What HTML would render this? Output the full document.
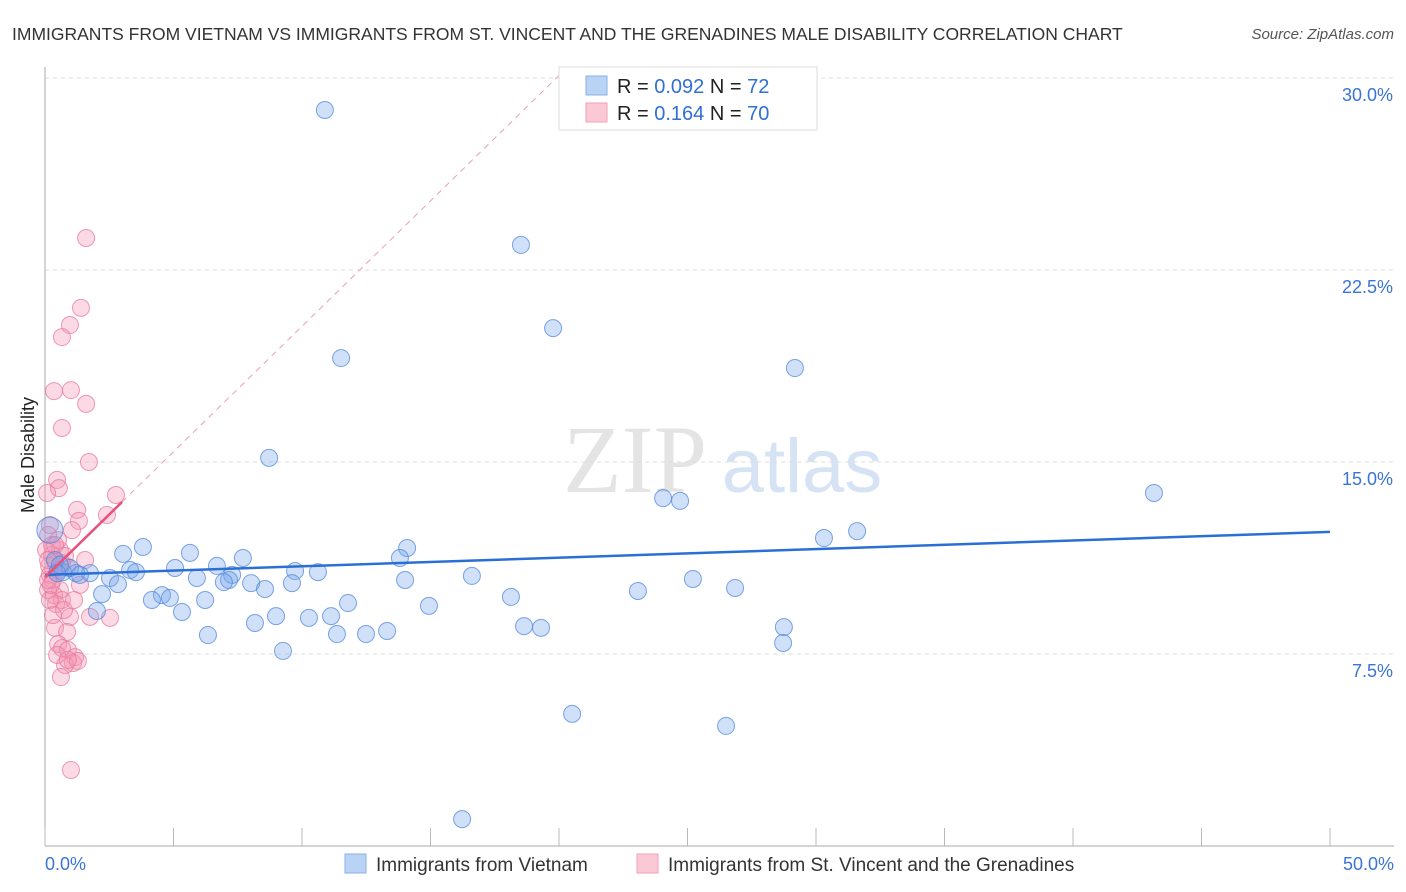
<!DOCTYPE html>
<html><head><meta charset="utf-8"><style>
body{margin:0;background:#fff;font-family:"Liberation Sans",sans-serif;}
#c{position:relative;width:1406px;height:892px;overflow:hidden}
</style></head><body>
<div id="c">
<svg id="s" width="1406" height="892" xmlns="http://www.w3.org/2000/svg">
<text x="12" y="40" font-size="17.5" fill="#333">IMMIGRANTS FROM VIETNAM VS IMMIGRANTS FROM ST. VINCENT AND THE GRENADINES MALE DISABILITY CORRELATION CHART</text>
<text x="1394" y="39" font-size="15" fill="#555" font-style="italic" text-anchor="end">Source: ZipAtlas.com</text>
<g><text x="635" y="492" font-size="96" font-family="Liberation Serif,serif" fill="#e4e4e4" text-anchor="middle">ZIP</text><text x="802" y="492" font-size="76" fill="#d6e3f4" text-anchor="middle">atlas</text></g>
<g id="grid"></g><g id="axes"></g><g id="marks"></g>
<text transform="translate(34,455) rotate(-90)" font-size="18" fill="#222" text-anchor="middle">Male Disability</text>
<g>
<rect x="559" y="67" width="258" height="63" fill="#fff" stroke="#ddd"/>
<rect x="586" y="76" width="21" height="19" fill="#b9d3f5" stroke="#8ab0e8"/>
<rect x="586" y="103" width="21" height="19" fill="#fbc8d6" stroke="#f0a0b8"/>
<text x="617" y="93" font-size="20" fill="#222">R = <tspan fill="#2f6fd6">0.092</tspan>   N = <tspan fill="#2f6fd6">72</tspan></text>
<text x="617" y="120" font-size="20" fill="#222">R =  <tspan fill="#2f6fd6">0.164</tspan>   N = <tspan fill="#2f6fd6">70</tspan></text>
</g>
<g>
<rect x="345" y="854" width="21" height="19" fill="#b9d3f5" stroke="#8ab0e8"/>
<text x="376" y="871" font-size="19" fill="#333">Immigrants from Vietnam</text>
<rect x="637" y="854" width="21" height="19" fill="#fbc8d6" stroke="#f0a0b8"/>
<text x="668" y="871" font-size="19" fill="#333">Immigrants from St. Vincent and the Grenadines</text>
</g>
</svg></div>
<script>
const yTicks=[7.5,15,22.5,30];
const yTickLabels=["7.5%","15.0%","22.5%","30.0%"];
const xTicks=[0,5,10,15,20,25,30,35,40,45,50];
const blueX=[10.89,18.52,19.77,11.52,29.18,8.72,24.05,24.71,43.15,31.60,30.31,14.09,13.81,3.81,3.04,5.64,7.70,6.69,5.06,3.31,3.54,1.75,1.21,2.53,7.28,7.16,5.91,6.96,8.02,8.56,9.73,9.61,10.62,14.01,16.61,25.21,26.85,23.07,2.22,2.84,4.55,4.16,4.86,6.23,11.79,14.94,18.13,2.02,5.33,8.99,10.27,11.13,8.17,18.64,19.30,28.75,6.34,11.36,12.49,13.31,28.72,9.26,20.51,26.50,16.23,0.19,0.70,0.97,1.36,0.39,0.58,0.47];
const blueY=[28.75,23.48,20.23,19.06,18.67,15.16,13.59,13.48,13.79,12.30,12.03,11.64,11.25,11.68,11.41,11.45,11.25,10.94,10.86,10.78,10.70,10.66,10.66,10.47,10.59,10.39,10.47,10.31,10.27,10.04,10.74,10.27,10.70,10.39,10.55,10.43,10.08,9.96,9.84,10.23,9.80,9.61,9.69,9.61,9.49,9.38,9.73,9.18,9.14,8.98,8.91,8.98,8.71,8.59,8.52,8.55,8.24,8.28,8.28,8.40,7.93,7.62,5.16,4.69,1.05,12.34,10.70,10.86,10.59,11.17,10.98,10.66];
const pinkX=[1.60,1.40,0.97,0.66,0.35,1.01,1.60,0.66,1.71,0.47,0.54,0.08,2.76,1.25,1.32,2.41,1.05,0.19,0.12,0.27,0.58,1.56,0.78,0.39,0.16,0.51,0.86,0.19,0.31,1.36,0.58,0.12,0.35,0.66,0.43,2.53,0.97,1.75,0.39,0.86,0.51,0.66,0.89,1.17,1.09,0.78,1.28,0.62,1.01,0.12,0.27,0.51,0.66,0.04,0.19,0.74,0.31,0.47,0.89,1.13,0.23,0.12,0.39];
const pinkY=[23.75,21.02,20.35,19.88,17.77,17.81,17.27,16.33,15.00,14.30,13.98,13.79,13.71,13.13,12.70,12.93,12.34,12.54,12.15,11.76,11.56,11.17,11.33,11.09,10.94,10.78,10.90,10.59,10.39,10.20,10.00,10.00,9.80,9.61,9.45,8.91,8.95,8.95,8.52,8.36,7.89,7.73,7.66,7.38,7.15,7.07,7.23,6.60,2.97,10.39,11.37,11.95,11.05,11.56,9.61,9.22,9.02,7.46,7.27,9.61,10.20,11.17,11.76];
const blueTrend=[10.59,12.27];
const pinkTrend=[10.5,0.98];
const X=v=>45+v*25.7, Y=v=>846-v*25.6;
const NS="http://www.w3.org/2000/svg";
function mk(p,t,a){const e=document.createElementNS(NS,t);for(const k in a)e.setAttribute(k,a[k]);p.appendChild(e);return e;}
const grid=document.getElementById('grid'),axes=document.getElementById('axes'),marks=document.getElementById('marks');
yTicks.forEach((t,i)=>{const l=mk(grid,'line',{x1:45,x2:1394,y1:Y(t),y2:Y(t),stroke:'#ddd','stroke-dasharray':'4,4'});


const tx=mk(axes,'text',{x:1393,y:Y(t)+23,'font-size':18,fill:'#3a74d6','text-anchor':'end'});tx.textContent=yTickLabels[i];

});
const ax=mk(axes,'line',{x1:45,x2:45,y1:67,y2:846,stroke:'#aaa'});


const bx=mk(axes,'line',{x1:45,x2:1394,y1:846,y2:846,stroke:'#aaa'});


xTicks.forEach(t=>{const l=mk(axes,'line',{x1:X(t),x2:X(t),y1:828,y2:846,stroke:'#bbb'});

});
[[0,'0.0%','start',45],[50,'50.0%','end',1394]].forEach(d=>{const tx=mk(axes,'text',{x:d[3],y:870,'font-size':18,fill:'#3a74d6','text-anchor':d[2]});tx.textContent=d[1];

});
pinkX.forEach((x,i)=>{const c=mk(marks,'circle',{cx:X(x),cy:Y(pinkY[i]),r:8.5,fill:'rgba(244,150,180,0.35)',stroke:'rgba(232,120,155,0.75)','stroke-width':1});

});
blueX.forEach((x,i)=>{const c=mk(marks,'circle',{cx:X(x),cy:Y(blueY[i]),r:i==65?13:8.5,fill:'rgba(120,165,235,0.35)',stroke:'rgba(80,135,220,0.75)','stroke-width':1});

});
const bt=mk(marks,'line',{x1:X(0),y1:Y(blueTrend[0]),x2:X(50),y2:Y(blueTrend[1]),stroke:'#2a6fd6','stroke-width':2.5});


const pd=mk(marks,'line',{x1:X(3),y1:Y(pinkTrend[0]+3*pinkTrend[1]),x2:X(20),y2:Y(pinkTrend[0]+20*pinkTrend[1]),stroke:'#e8a0b8','stroke-width':1,'stroke-dasharray':'6,5'});


const pt=mk(marks,'line',{x1:X(0),y1:Y(pinkTrend[0]),x2:X(3),y2:Y(pinkTrend[0]+3*pinkTrend[1]),stroke:'#e8507e','stroke-width':2.5});


</script>
</body></html>
